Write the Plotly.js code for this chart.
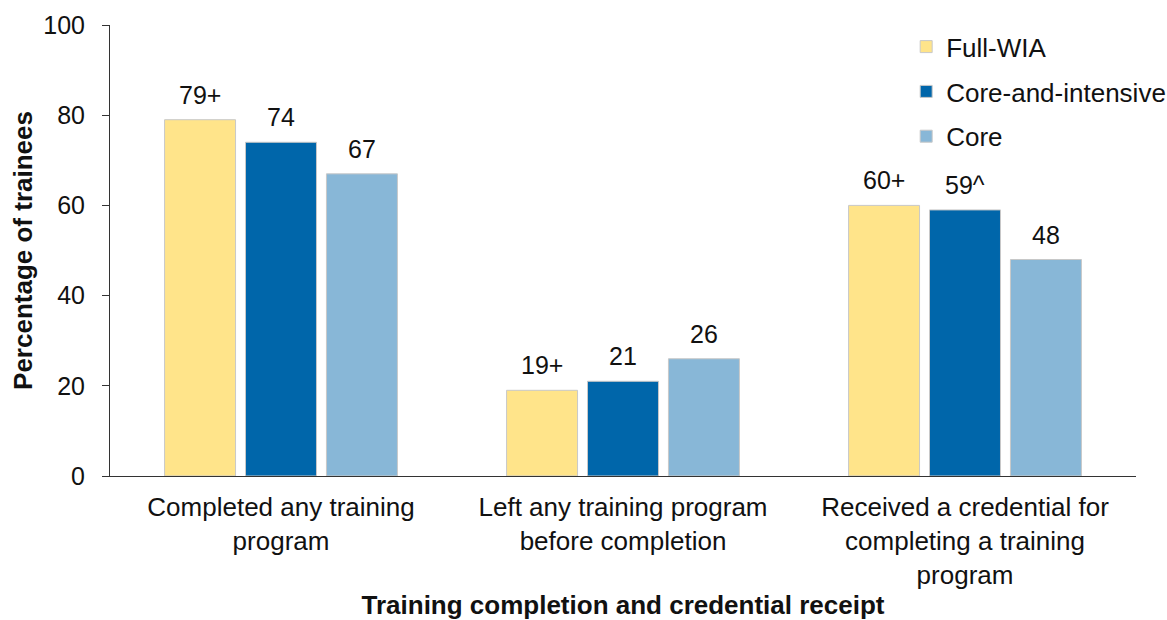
<!DOCTYPE html>
<html>
<head>
<meta charset="utf-8">
<script src="https://cdn.plot.ly/plotly-3.0.1.min.js"></script>
<style>html,body{margin:0;padding:0;background:#fff;overflow:hidden;}#chart{width:1167px;height:620px;}</style>
</head>
<body>
<div id="chart"></div>
<script>
const categories = [
  "Completed any training<br>program",
  "Left any training program<br>before completion",
  "Received a credential for<br>completing a training<br>program"
];
const seriesNames = ["Full-WIA", "Core-and-intensive", "Core"];
const fullWIA = [79, 19, 60];
const coreIntensive = [74, 21, 59];
const core = [67, 26, 48];
const fullWIALabels = ["79+", "19+", "60+"];
const coreIntensiveLabels = ["74", "21", "59^"];
const coreLabels = ["67", "26", "48"];
const yTicks = [0, 20, 40, 60, 80, 100];

const colors = ["#FFE48A", "#0066AA", "#88B7D7"];
const values = [fullWIA, coreIntensive, core];
const labels = [fullWIALabels, coreIntensiveLabels, coreLabels];
const FONT = "Liberation Sans, Arial, sans-serif";
const bargap = 0.29;

const traces = seriesNames.map((name, i) => ({
  type: "bar",
  name: name,
  x: categories,
  y: values[i],
  legendgroup: "g" + i,
  marker: {color: colors[i], line: {color: "#c8c8c8", width: 1}},
  hoverinfo: "skip"
}));

// value labels placed through the category axis (group offsets)
const slot = (1 - bargap) / 3;
const annotations = [];
values.forEach((vals, i) => {
  vals.forEach((v, j) => {
    annotations.push({
      x: j + (i - 1) * slot,
      y: v,
      xref: "x", yref: "y",
      text: labels[i][j],
      showarrow: false,
      xanchor: "center", yanchor: "bottom",
      yshift: 9,
      font: {family: FONT, size: 25, color: "#111"}
    });
  });
});

const layout = {
  width: 1167,
  height: 620,
  margin: {l: 110, r: 31, t: 25, b: 144, autoexpand: false},
  paper_bgcolor: "#fff",
  plot_bgcolor: "#fff",
  font: {family: FONT, size: 26, color: "#111"},
  barmode: "group",
  bargap: bargap,
  bargroupgap: 0.123,
  showlegend: true,
  legend: {
    xref: "paper", yref: "paper",
    x: 0.776, y: 1.004, xanchor: "left", yanchor: "top",
    font: {size: 26, color: "#111"},
    traceorder: "grouped",
    tracegroupgap: 8,
    bgcolor: "rgba(0,0,0,0)"
  },
  annotations: annotations,
  xaxis: {
    type: "category",
    range: [-0.5, 2.5],
    showline: true, linecolor: "#333", linewidth: 1,
    ticks: "", showgrid: false, zeroline: false,
    tickangle: 0,
    ticklabelstandoff: 8,
    tickfont: {size: 26, color: "#111"},
    automargin: false,
    title: {text: "<b>Training completion and credential receipt</b>", font: {size: 26, color: "#111"}, standoff: 10}
  },
  yaxis: {
    range: [0, 100],
    tickvals: yTicks,
    showline: true, linecolor: "#333", linewidth: 1,
    ticks: "outside", ticklen: 7, tickcolor: "#333",
    ticklabelstandoff: 12,
    showgrid: false, zeroline: false,
    tickfont: {size: 25, color: "#111"},
    automargin: false,
    title: {text: "<b>Percentage of trainees</b>", font: {size: 26, color: "#111"}, standoff: 3}
  }
};

Plotly.newPlot("chart", traces, layout, {staticPlot: true, displayModeBar: false});
</script>
</body>
</html>
